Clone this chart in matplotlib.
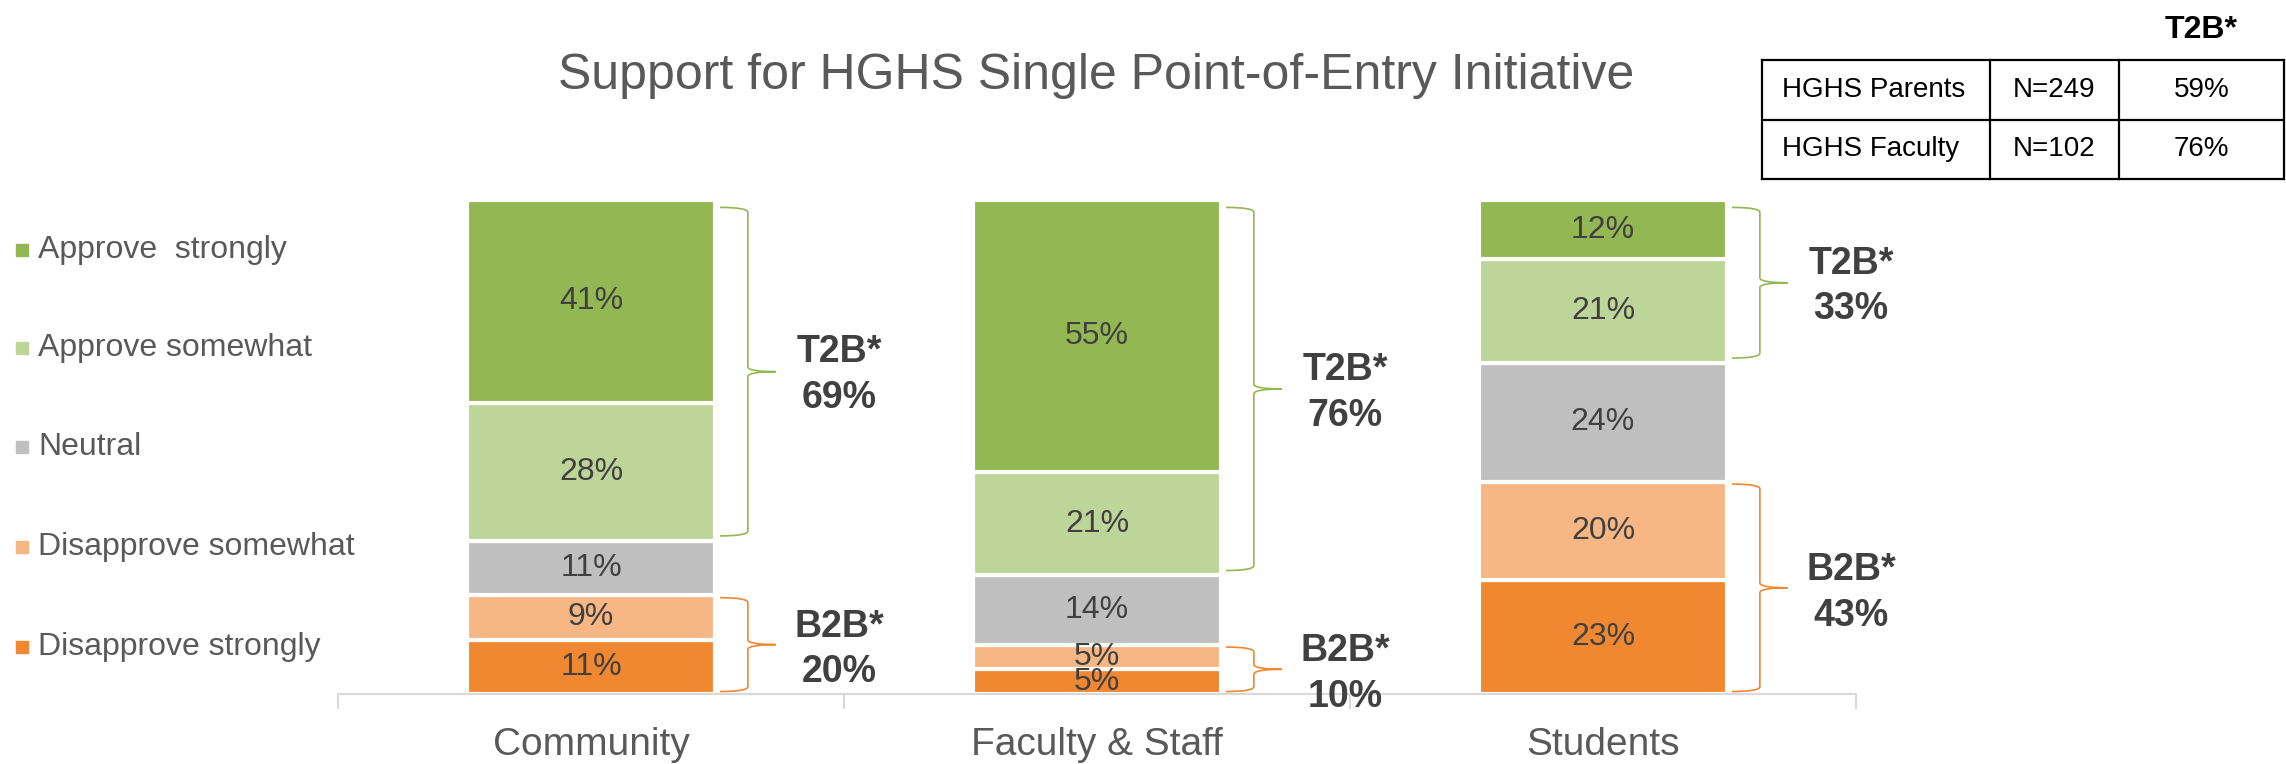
import matplotlib

matplotlib.use("Agg")
import matplotlib.pyplot as plt
from matplotlib.lines import Line2D
from matplotlib.patches import PathPatch, Rectangle
from matplotlib.path import Path

# --- data ---
groups = ["Community", "Faculty & Staff", "Students"]
levels = ["Approve  strongly", "Approve somewhat", "Neutral", "Disapprove somewhat", "Disapprove strongly"]
approve_strongly = [41, 55, 12]
approve_somewhat = [28, 21, 21]
neutral = [11, 14, 24]
disapprove_somewhat = [9, 5, 20]
disapprove_strongly = [11, 5, 23]
t2b = [69, 76, 33]
b2b = [20, 10, 43]

table_groups = ["HGHS Parents", "HGHS Faculty"]
table_n = ["N=249", "N=102"]
table_t2b = ["59%", "76%"]

COLORS = ["#93b853", "#bdd598", "#bfbfbf", "#f6b784", "#f08731"]
GREEN_LINE = "#93b853"
ORANGE_LINE = "#f08731"
TEXT_DARK = "#404040"
TEXT_GRAY = "#595959"

plt.rcParams["font.family"] = ["Liberation Sans", "DejaVu Sans"]

W, H = 2286, 764
fig = plt.figure(figsize=(W / 100, H / 100), dpi=100)


def fx(px):
    return px / W


def fy(py):
    return 1 - py / H


ax = fig.add_axes([fx(338), fy(694), fx(1856) - fx(338), fy(200) - fy(694)])

x = list(range(len(groups)))
bar_w = 0.49
# stacked from bottom: disapprove strongly up to approve strongly
stack = [disapprove_strongly, disapprove_somewhat, neutral, approve_somewhat, approve_strongly]
stack_colors = COLORS[::-1]
bottom = [0] * len(groups)
for vals, col in zip(stack, stack_colors):
    bars = ax.bar(x, vals, bar_w, bottom=bottom, color=col, edgecolor="white", linewidth=3)
    for rect, v, b in zip(bars, vals, bottom):
        ax.text(rect.get_x() + rect.get_width() / 2, b + v / 2, f"{v}%",
                ha="center", va="center", fontsize=23, color=TEXT_DARK)
    bottom = [b + v for b, v in zip(bottom, vals)]


def brace(ax, xl, ytop, ybot, color):
    xm = xl + 0.055
    xt = xl + 0.11
    ymid = (ytop + ybot) / 2
    r = 1.0
    verts = [
        (xl, ytop), (xm, ytop), (xm, ytop - r),
        (xm, ymid + r),
        (xm, ymid), (xt, ymid),
        (xm, ymid), (xm, ymid - r),
        (xm, ybot + r),
        (xm, ybot), (xl, ybot),
    ]
    codes = [Path.MOVETO, Path.CURVE3, Path.CURVE3, Path.LINETO,
             Path.CURVE3, Path.CURVE3, Path.CURVE3, Path.CURVE3,
             Path.LINETO, Path.CURVE3, Path.CURVE3]
    ax.add_patch(PathPatch(Path(verts, codes), fill=False, edgecolor=color,
                           linewidth=1.2, clip_on=False))


for i in x:
    right = i + bar_w / 2
    top_lo = 100 - t2b[i]
    brace(ax, right + 0.01, 100 - 1.5, top_lo + 1, GREEN_LINE)
    ax.text(right + 0.245, (100 + top_lo) / 2 - 1, f"T2B*\n{t2b[i]}%", ha="center", va="center",
            fontsize=27, fontweight="bold", color=TEXT_DARK, linespacing=1.35, clip_on=False)
    brace(ax, right + 0.01, b2b[i] - 0.5, 0.5, ORANGE_LINE)
    ax.text(right + 0.245, b2b[i] / 2 - 1, f"B2B*\n{b2b[i]}%", ha="center", va="center",
            fontsize=27, fontweight="bold", color=TEXT_DARK, linespacing=1.35, clip_on=False)

ax.set_xlim(-0.5, 2.5)
ax.set_ylim(0, 100)
for s in ["top", "right", "left"]:
    ax.spines[s].set_visible(False)
ax.spines["bottom"].set_color("#d9d9d9")
ax.spines["bottom"].set_linewidth(1.5)
ax.set_yticks([])
ax.set_xticks([-0.5, 0.5, 1.5, 2.5])
ax.set_xticklabels([])
ax.tick_params(axis="x", which="major", length=11, width=1.5, color="#d9d9d9")
ax.set_xticks(x, minor=True)
ax.set_xticklabels(groups, minor=True)
ax.tick_params(axis="x", which="minor", length=0, pad=24, labelsize=28, labelcolor=TEXT_GRAY)

fig.text(fx(1096), fy(76), "Support for HGHS Single Point-of-Entry Initiative",
         ha="center", va="center", fontsize=36, color=TEXT_GRAY)

# legend
legend_y = [250, 348, 447, 547, 647]
for lab, col, yy in zip(levels, COLORS, legend_y):
    fig.add_artist(Rectangle((fx(16), fy(yy + 6)), fx(12), fy(yy - 6) - fy(yy + 6),
                             transform=fig.transFigure, color=col))
    fig.text(fx(38), fy(yy), lab, ha="left", va="center", fontsize=23, color=TEXT_GRAY)

# table
col_x = [1762, 1990, 2119, 2284]
row_y = [60, 120, 179]
for yy in row_y:
    fig.add_artist(Line2D([fx(col_x[0]), fx(col_x[-1])], [fy(yy), fy(yy)],
                          transform=fig.transFigure, color="black", linewidth=1.6))
for xx in col_x:
    fig.add_artist(Line2D([fx(xx), fx(xx)], [fy(row_y[0]), fy(row_y[-1])],
                          transform=fig.transFigure, color="black", linewidth=1.6))
for r, (g, n, t) in enumerate(zip(table_groups, table_n, table_t2b)):
    yc = (row_y[r] + row_y[r + 1]) / 2
    fig.text(fx(col_x[0] + 20), fy(yc), g, ha="left", va="center", fontsize=20, color="black")
    fig.text(fx((col_x[1] + col_x[2]) / 2), fy(yc), n, ha="center", va="center", fontsize=20, color="black")
    fig.text(fx((col_x[2] + col_x[3]) / 2), fy(yc), t, ha="center", va="center", fontsize=20, color="black")
fig.text(fx((col_x[2] + col_x[3]) / 2), fy(30), "T2B*", ha="center", va="center",
         fontsize=23, fontweight="bold", color="black")

fig.savefig("out.png", dpi=100)
